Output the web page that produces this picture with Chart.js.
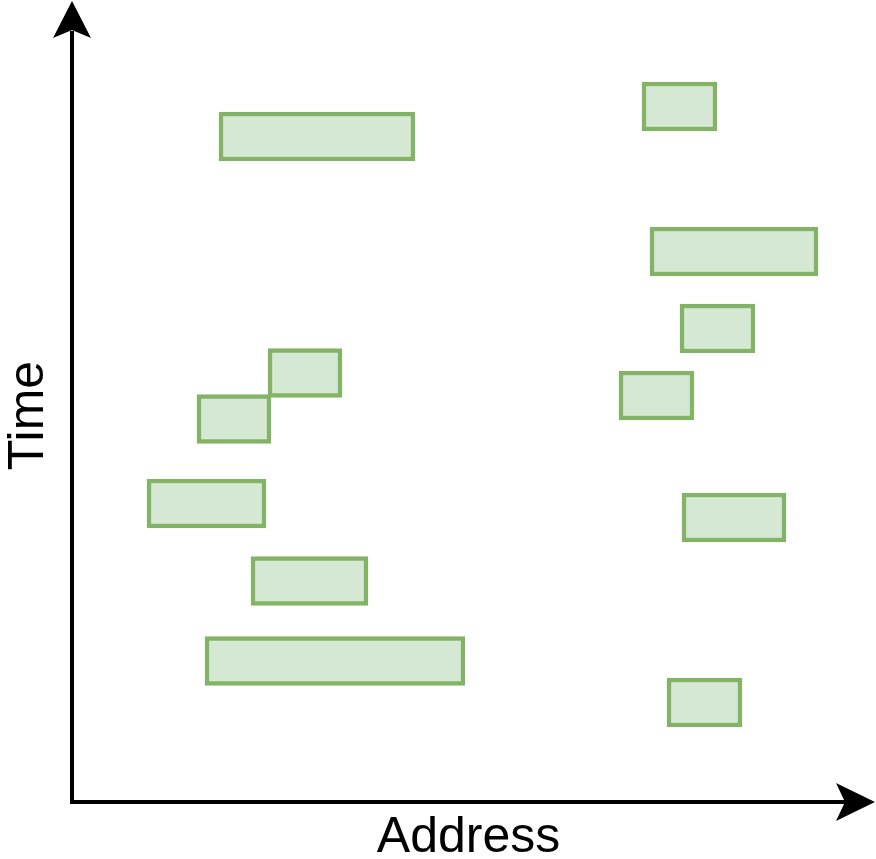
<!DOCTYPE html>
<html>
<head>
<meta charset="utf-8">
<script src="https://cdn.jsdelivr.net/npm/chart.js@4/dist/chart.umd.min.js"></script>
<style>
  html, body { margin: 0; padding: 0; background: #ffffff; }
  #wrap { width: 876px; height: 859px; position: relative; }
</style>
</head>
<body>
<div id="wrap"><canvas id="c"></canvas></div>
<script>
// Each block: an address range [start, end] held at a point in time (block centre)
const blockNames   = ['A', 'B', 'C', 'D', 'E', 'F', 'G', 'H', 'I', 'J', 'K', 'L'];
const addressStart = [147, 570, 578, 608, 196, 125, 547,  75, 610, 179, 133, 595];
const addressEnd   = [343, 645, 746, 683, 270, 199, 622, 194, 714, 296, 393, 670];
const timeValue    = [665.5, 695.5, 550.5, 473.5, 429, 383, 406.5, 298.5, 284.5, 221, 141, 99.5];
const xAxisTitle = 'Address';
const yAxisTitle = 'Time';

const points = blockNames.map((n, i) => ({ y: timeValue[i], x: [addressStart[i], addressEnd[i]] }));

const axesArrows = {
  id: 'axesArrows',
  afterDraw(chart) {
    const ctx = chart.ctx;
    const xs = chart.scales.x, ys = chart.scales.y;
    const ox = xs.getPixelForValue(0);
    const oy = ys.getPixelForValue(0);
    const topTip = 1, rightTip = chart.width - 1;
    ctx.save();
    ctx.strokeStyle = '#000';
    ctx.fillStyle = '#000';
    ctx.lineWidth = 4;
    ctx.lineJoin = 'miter';
    ctx.beginPath();
    ctx.moveTo(ox, topTip + 30);
    ctx.lineTo(ox, oy);
    ctx.lineTo(rightTip - 30, oy);
    ctx.stroke();
    // up arrow head
    ctx.beginPath();
    ctx.moveTo(ox, topTip);
    ctx.lineTo(ox + 19, topTip + 37);
    ctx.lineTo(ox, topTip + 29);
    ctx.lineTo(ox - 19, topTip + 37);
    ctx.closePath();
    ctx.fill();
    // right arrow head
    ctx.beginPath();
    ctx.moveTo(rightTip, oy);
    ctx.lineTo(rightTip - 39, oy - 19);
    ctx.lineTo(rightTip - 30, oy);
    ctx.lineTo(rightTip - 39, oy + 19);
    ctx.closePath();
    ctx.fill();
    ctx.restore();
  }
};

new Chart(document.getElementById('c'), {
  type: 'bar',
  data: {
    labels: blockNames,
    datasets: [{
      data: points,
      backgroundColor: '#d5e8d4',
      borderColor: '#82b366',
      borderWidth: 4.5,
      borderSkipped: false,
      barThickness: 49,
      grouped: false
    }]
  },
  options: {
    indexAxis: 'y',
    responsive: true,
    maintainAspectRatio: false,
    animation: false,
    devicePixelRatio: 1,
    layout: { padding: { top: 29, right: 11, left: 0, bottom: 0 } },
    plugins: { legend: { display: false }, tooltip: { enabled: false } },
    scales: {
      x: {
        type: 'linear', min: 0, max: 793, offset: false,
        grid: { display: false, drawTicks: false },
        border: { display: false },
        ticks: { display: false },
        title: {
          display: true, text: xAxisTitle, color: '#000',
          font: { family: 'Liberation Sans, Arial, sans-serif', size: 50, lineHeight: 0.8 },
          padding: { top: 16.5, bottom: 0.5 }
        }
      },
      y: {
        type: 'linear', min: 0, max: 773, offset: false,
        grid: { display: false, drawTicks: false },
        border: { display: false },
        ticks: { display: false },
        title: {
          display: true, text: yAxisTitle, color: '#000',
          font: { family: 'Liberation Sans, Arial, sans-serif', size: 50, lineHeight: 0.8 },
          padding: { top: 9.5, bottom: 22.5 }
        }
      }
    }
  },
  plugins: [axesArrows]
});
</script>
</body>
</html>
